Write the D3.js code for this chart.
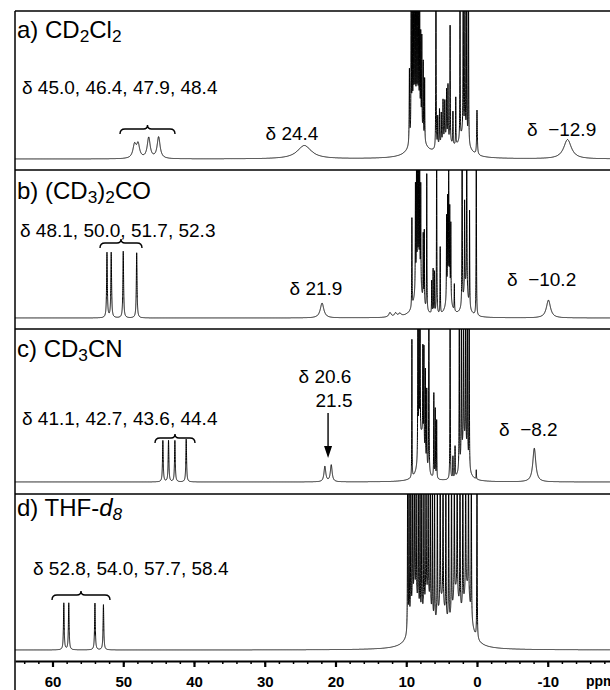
<!DOCTYPE html>
<html>
<head>
<meta charset="utf-8">
<script src="https://d3js.org/d3.v7.min.js"></script>
<style>
  body { margin: 0; background: #fff; }
  text { font-family: "Liberation Sans", Arial, Helvetica, sans-serif; fill: #000; }
</style>
</head>
<body>
<div id="grafik"></div>

<script>
    // peaks: [ppm, height (fraction of panel), width (ppm)]
    var peaksA = [
        [48.4, .09, .55], [47.9, .09, .5], [46.4, .14, .5], [45.0, .145, .5],
        [24.4, .09, 2.4],
        [9.55, .5, .07], [9.3, 1.5, .05], [9.15, 1.3, .05], [9.0, 1.2, .05], [8.85, 1.4, .05],
        [8.7, .85, .05], [8.55, .8, .05], [8.4, .85, .05], [8.25, .7, .05], [8.1, .78, .05],
        [7.95, .6, .05], [7.8, .62, .05], [7.6, .5, .05], [7.4, .42, .05], [8.4, .3, 1.4],
        [5.8, 1.5, .05], [5.55, .2, .06], [5.3, .24, .06], [5.05, .2, .06], [4.8, .27, .06],
        [4.55, .25, .06], [4.3, .32, .06], [4.1, .36, .06], [4.4, .12, 2.0],
        [3.8, .78, .05], [3.4, .22, .05], [3.0, .32, .05], [2.4, .94, .05],
        [1.95, 1.4, .05], [1.7, 1.5, .05], [1.45, 1.3, .05], [1.2, 1.4, .05], [1.9, .15, 1.5],
        [0.0, .3, .1],
        [-12.8, .13, 1.3]
    ];
    var peaksB = [
        [52.3, .44, .12], [51.7, .44, .12], [50.0, .45, .12], [48.1, .44, .12],
        [21.9, .1, .6],
        [12.3, .03, .4], [11.5, .025, .4], [10.9, .02, .4],
        [9.2, .6, .05], [8.7, .7, .05], [8.55, .75, .05], [8.4, .78, .05], [8.25, .72, .05],
        [8.1, .8, .05], [7.95, .68, .05], [7.6, .45, .05], [7.45, .5, .05], [7.1, .92, .05],
        [8.3, .3, 1.0],
        [6.4, .22, .05], [6.2, .3, .05], [6.0, .28, .05], [5.7, 1.5, .05], [5.2, .45, .05],
        [4.3, .55, .05], [4.15, .62, .05], [4.0, .75, .05], [3.85, .55, .05], [3.7, .5, .05],
        [4.0, .2, .7], [3.2, .18, .05],
        [2.1, 1.5, .05], [1.75, .6, .05], [1.45, 1.5, .05], [1.05, .65, .05], [1.6, .2, .8],
        [0.1, 1.4, .05],
        [-10.1, .12, .7]
    ];
    var peaksC = [
        [44.4, .27, .12], [43.6, .27, .12], [42.7, .27, .12], [41.1, .28, .12],
        [21.5, .1, .3], [20.6, .11, .3],
        [9.2, .9, .04], [8.35, 1.4, .05], [8.2, 1.3, .05], [8.05, 1.3, .05], [7.65, .6, .05],
        [7.5, .65, .05], [7.3, .58, .05], [7.1, .5, .05], [6.8, 1.4, .05], [7.8, .3, .9],
        [6.1, .55, .05], [5.9, .45, .05], [5.7, .38, .05],
        [3.8, 1.4, .05], [3.4, .14, .05], [3.1, .2, .05],
        [2.5, 1.3, .05], [2.2, 1.4, .05], [1.9, 1.4, .05], [1.6, 1.3, .05], [1.35, 1.4, .05],
        [1.1, 1.3, .05], [1.8, .25, .9],
        [0.1, .06, .05],
        [-8.1, .22, .5]
    ];
    var peaksD = [
        [58.4, .3, .12], [57.7, .3, .12], [54.0, .3, .12], [52.8, .29, .12],
        [9.8, 1.5, .05], [9.6, 1.3, .05], [9.35, 1.4, .05], [9.1, 1.2, .05], [8.85, 1.3, .05],
        [8.6, 1.2, .05], [8.3, 1.4, .05], [8.05, 1.1, .05], [7.8, 1.3, .05], [7.5, 1.2, .05],
        [7.2, 1.3, .05], [6.9, 1.1, .05], [6.6, 1.2, .05], [6.3, 1.1, .05], [6.0, 1.2, .05],
        [5.6, 1.3, .05], [5.2, 1.2, .05], [4.8, 1.3, .05], [4.4, 1.2, .05], [4.0, 1.4, .05],
        [3.6, 1.3, .05], [3.2, 1.2, .05], [2.8, 1.4, .05], [2.4, 1.3, .05], [2.0, 1.4, .05],
        [1.6, 1.3, .05], [1.2, 1.2, .05], [0.8, 1.3, .05], [0.0, 1.4, .05],
        [8.8, .3, 1.2], [7, .28, 1.2], [5, .25, 1.2], [3, .3, 1.2], [1.4, .35, 1.2]
    ];

    var majorTicks = [60, 50, 40, 30, 20, 10, 0, -10];
    var minorTicks = d3.range(-18, 66, 2);

    var width = 610, height = 690;
    var left = 15;

    var svg = d3.select("#grafik")
        .append("svg")
        .attr("width", width)
        .attr("height", height);

    var xScale = d3.scaleLinear()
        .domain([65.3, -18.8])
        .range([left, width]);

    // panels: top line, separator below, spectrum baseline
    var panels = [
        { peaks: peaksA, top: 11, bottom: 170, base: 159 },
        { peaks: peaksB, top: 170, bottom: 329, base: 318 },
        { peaks: peaksC, top: 329, bottom: 494, base: 482 },
        { peaks: peaksD, top: 494, bottom: 661, base: 650 }
    ];

    var grid = d3.range(65.3, -18.8, -0.004);

    panels.forEach(function(p, i) {
        var yScale = d3.scaleLinear().domain([0, 1]).range([p.base, p.top]);
        var spec = grid.map(function(v) {
            var s = 0;
            p.peaks.forEach(function(k) {
                var t = (v - k[0]) / (k[2] / 2);
                s += k[1] / (1 + t * t);
            });
            return [v, s];
        });
        svg.append("clipPath").attr("id", "clip" + i)
            .append("rect")
            .attr("x", left).attr("y", p.top)
            .attr("width", width - left).attr("height", p.bottom - p.top);
        svg.append("path")
            .datum(spec)
            .attr("clip-path", "url(#clip" + i + ")")
            .attr("fill", "none")
            .attr("stroke", "#000")
            .attr("stroke-width", 1)
            .attr("d", d3.line()
                .x(function(d) { return xScale(d[0]); })
                .y(function(d) { return yScale(d[1]); }));
    });

    // frame
    svg.append("line").attr("x1", left).attr("x2", left).attr("y1", 11).attr("y2", height)
        .attr("stroke", "#000").attr("stroke-width", 1.5);
    [11, 170, 329, 494].forEach(function(y) {
        svg.append("line").attr("x1", left).attr("x2", width).attr("y1", y).attr("y2", y)
            .attr("stroke", "#000").attr("stroke-width", 1.5);
    });

    // x axis
    var axisG = svg.append("g").attr("transform", "translate(0,661)");
    axisG.append("g")
        .call(d3.axisBottom(xScale).tickValues(minorTicks).tickSize(3).tickSizeOuter(0).tickFormat(""))
        .call(function(g) { g.select(".domain").attr("stroke-width", 2); })
        .selectAll(".tick line").attr("stroke-width", 1.5);
    axisG.append("g")
        .call(d3.axisBottom(xScale).tickValues(majorTicks).tickSize(6).tickSizeOuter(0).tickPadding(9)
            .tickFormat(function(d) { return String(d); }))
        .call(function(g) { g.select(".domain").remove(); })
        .call(function(g) {
            g.selectAll(".tick line").attr("stroke-width", 2.2);
            g.selectAll(".tick text").attr("font-size", 15).attr("font-weight", "bold")
                .attr("font-family", null);
        });
    axisG.append("text").attr("x", 586).attr("y", 25).attr("font-size", 14)
        .attr("font-weight", "bold").text("ppm");

    // labels
    function label(x, y, size, parts, anchor) {
        var t = svg.append("text").attr("x", x).attr("y", y).attr("font-size", size)
            .attr("text-anchor", anchor || "start").style("white-space", "pre");
        parts.forEach(function(p) {
            var s = t.append("tspan").text(p.t);
            if (p.sub) s.attr("font-size", size * 0.72).attr("baseline-shift", "-25%");
            if (p.it) s.attr("font-style", "italic");
        });
        return t;
    }
    var LS = 24, AS = 19;
    label(17, 38, LS, [{ t: "a) CD" }, { t: "2", sub: 1 }, { t: "Cl" }, { t: "2", sub: 1 }]);
    label(17, 199, LS, [{ t: "b) (CD" }, { t: "3", sub: 1 }, { t: ")" }, { t: "2", sub: 1 }, { t: "CO" }]);
    label(17, 357, LS, [{ t: "c) CD" }, { t: "3", sub: 1 }, { t: "CN" }]);
    label(17, 516, LS, [{ t: "d) THF-" }, { t: "d", it: 1 }, { t: "8", sub: 1, it: 1 }]);

    label(22, 94, AS, [{ t: "δ 45.0, 46.4, 47.9, 48.4" }]);
    label(292, 140, AS, [{ t: "δ 24.4" }], "middle");
    label(527, 136, AS, [{ t: "δ  −12.9" }]);

    label(20, 237, AS, [{ t: "δ 48.1, 50.0, 51.7, 52.3" }]);
    label(316, 295, AS, [{ t: "δ 21.9" }], "middle");
    label(507, 286, AS, [{ t: "δ  −10.2" }]);

    label(325, 383, AS, [{ t: "δ 20.6" }], "middle");
    label(334, 407, AS, [{ t: "21.5" }], "middle");
    label(22, 425, AS, [{ t: "δ 41.1, 42.7, 43.6, 44.4" }]);
    label(499, 436, AS, [{ t: "δ  −8.2" }]);

    label(33, 575, AS, [{ t: "δ 52.8, 54.0, 57.7, 58.4" }]);

    // braces
    function brace(x1, x2, y) {
        var m = (x1 + x2) / 2, p = d3.path();
        p.moveTo(x1, y + 5);
        p.quadraticCurveTo(x1, y, x1 + 5, y);
        p.lineTo(m - 4, y);
        p.quadraticCurveTo(m, y, m, y - 4);
        p.quadraticCurveTo(m, y, m + 4, y);
        p.lineTo(x2 - 5, y);
        p.quadraticCurveTo(x2, y, x2, y + 5);
        svg.append("path").attr("d", p.toString()).attr("fill", "none")
            .attr("stroke", "#000").attr("stroke-width", 1.4);
    }
    brace(120, 175, 129);
    brace(100, 142, 243);
    brace(155, 195, 438);
    brace(52, 110, 595);

    // arrow to the 20.6 / 21.5 pair
    var ax = xScale(21.05);
    svg.append("line").attr("x1", ax).attr("x2", ax).attr("y1", 413).attr("y2", 448)
        .attr("stroke", "#000").attr("stroke-width", 1.4);
    svg.append("path")
        .attr("d", "M" + (ax - 4) + ",446L" + (ax + 4) + ",446L" + ax + ",458Z")
        .attr("fill", "#000");
</script>
</body>
</html>
